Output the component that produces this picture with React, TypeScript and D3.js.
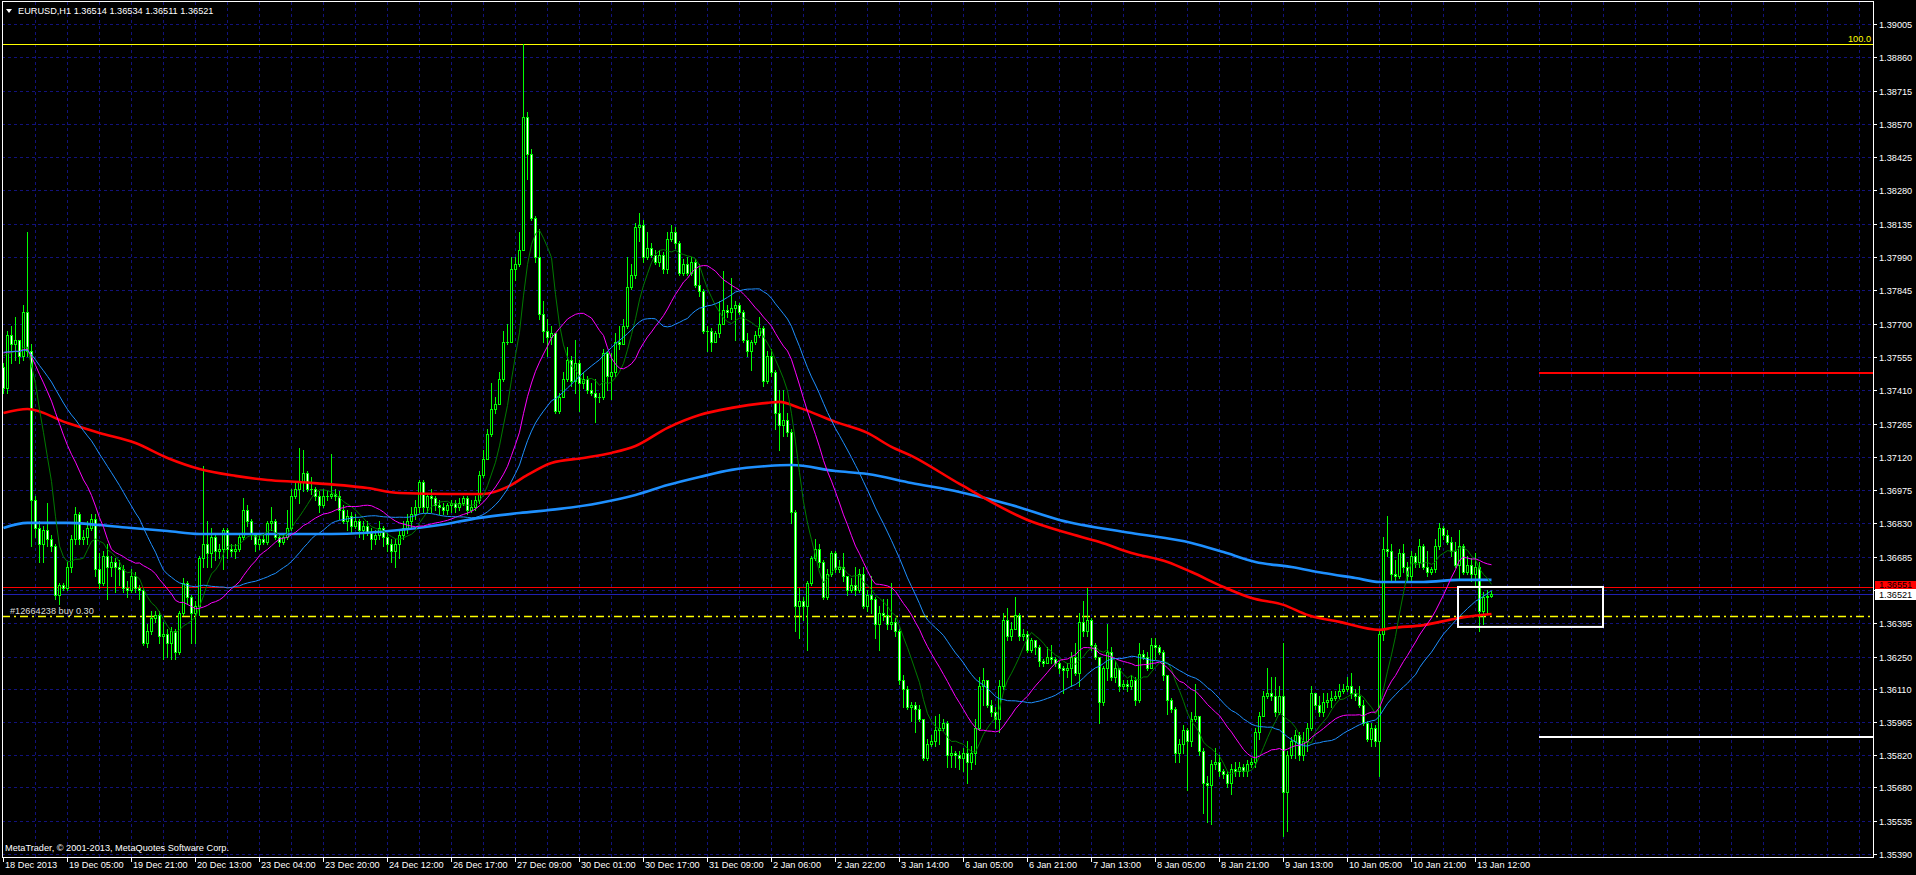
import React, { useRef, useEffect } from 'react';
import * as d3 from 'd3';

const W = 1916;
const H = 875;

// EURUSD H1, one bar per hour starting 18 Dec 2013 13:00 (open of each bar = previous close)
const firstOpen = 1.3751;

const closes: number[] = [
    1.3742, 1.3765, 1.3761, 1.3763, 1.3756, 1.3775, 1.3758, 1.3693, 1.3681, 1.3674, 1.3680, 1.3676, 1.3673, 1.3652, 1.3656, 1.3655,
    1.3664, 1.3676, 1.3687, 1.3676, 1.3677, 1.3681, 1.3685, 1.3663, 1.3657, 1.3669, 1.3664, 1.3666, 1.3664, 1.3663, 1.3655, 1.3654,
    1.3660, 1.3655, 1.3654, 1.3631, 1.3636, 1.3642, 1.3643, 1.3634, 1.3635, 1.3631, 1.3636, 1.3627, 1.3644, 1.3657, 1.3651, 1.3644,
    1.3647, 1.3668, 1.3674, 1.3670, 1.3677, 1.3671, 1.3672, 1.3680, 1.3672, 1.3671, 1.3672, 1.3677, 1.3689, 1.3684, 1.3678, 1.3674,
    1.3676, 1.3675, 1.3683, 1.3684, 1.3677, 1.3675, 1.3677, 1.3681, 1.3695, 1.3698, 1.3701, 1.3705, 1.3698, 1.3698, 1.3695, 1.3691,
    1.3695, 1.3695, 1.3696, 1.3695, 1.3689, 1.3684, 1.3686, 1.3682, 1.3684, 1.3680, 1.3682, 1.3679, 1.3676, 1.3678, 1.3681, 1.3677,
    1.3674, 1.3671, 1.3674, 1.3678, 1.3681, 1.3684, 1.3687, 1.3690, 1.3701, 1.3690, 1.3695, 1.3694, 1.3691, 1.3690, 1.3689, 1.3691,
    1.3692, 1.3690, 1.3692, 1.3694, 1.3689, 1.3690, 1.3693, 1.3704, 1.3711, 1.3722, 1.3733, 1.3735, 1.3746, 1.3762, 1.3762, 1.3794,
    1.3796, 1.3802, 1.3860, 1.3844, 1.3816, 1.3799, 1.3774, 1.3767, 1.3764, 1.3766, 1.3732, 1.3738, 1.3746, 1.3754, 1.3745, 1.3753,
    1.3744, 1.3746, 1.3741, 1.3740, 1.3738, 1.3738, 1.3757, 1.3747, 1.3749, 1.3762, 1.3761, 1.3769, 1.3786, 1.3791, 1.3812, 1.3813,
    1.3799, 1.3803, 1.3800, 1.3797, 1.3800, 1.3794, 1.3807, 1.3810, 1.3805, 1.3792, 1.3796, 1.3792, 1.3797, 1.3787, 1.3784, 1.3767,
    1.3767, 1.3762, 1.3766, 1.3770, 1.3776, 1.3775, 1.3777, 1.3778, 1.3775, 1.3763, 1.3758, 1.3762, 1.3765, 1.3768, 1.3745, 1.3756,
    1.3749, 1.3731, 1.3726, 1.3728, 1.3723, 1.3688, 1.3647, 1.3649, 1.3647, 1.3657, 1.3668, 1.3672, 1.3666, 1.3651, 1.3661, 1.3670,
    1.3663, 1.3664, 1.3660, 1.3654, 1.3656, 1.3654, 1.3661, 1.3647, 1.3652, 1.3650, 1.3639, 1.3644, 1.3643, 1.3639, 1.3640, 1.3636,
    1.3615, 1.3611, 1.3603, 1.3604, 1.3602, 1.3598, 1.3581, 1.3587, 1.3588, 1.3593, 1.3594, 1.3596, 1.3582, 1.3583, 1.3582, 1.3581,
    1.3583, 1.3579, 1.3583, 1.3594, 1.3612, 1.3615, 1.3604, 1.3601, 1.3598, 1.3612, 1.3641, 1.3634, 1.3637, 1.3643, 1.3634, 1.3635,
    1.3628, 1.3632, 1.3629, 1.3623, 1.3622, 1.3625, 1.3624, 1.3622, 1.3620, 1.3619, 1.3620, 1.3625, 1.3618, 1.3640, 1.3636, 1.3641,
    1.3630, 1.3625, 1.3605, 1.3620, 1.3627, 1.3616, 1.3620, 1.3612, 1.3613, 1.3612, 1.3615, 1.3606, 1.3626, 1.3625, 1.3620, 1.3630,
    1.3629, 1.3627, 1.3617, 1.3606, 1.3602, 1.3583, 1.3587, 1.3593, 1.3588, 1.3598, 1.3599, 1.3584, 1.3570, 1.3569, 1.3578, 1.3579,
    1.3575, 1.3574, 1.3570, 1.3576, 1.3575, 1.3577, 1.3575, 1.3578, 1.3579, 1.3592, 1.3599, 1.3608, 1.3609, 1.3608, 1.3601, 1.3608,
    1.3566, 1.3582, 1.3588, 1.3591, 1.3582, 1.3588, 1.3594, 1.3609, 1.3604, 1.3601, 1.3605, 1.3606, 1.3607, 1.3608, 1.3610, 1.3611,
    1.3612, 1.3609, 1.3608, 1.3604, 1.3596, 1.3589, 1.3594, 1.3588, 1.3635, 1.3672, 1.3671, 1.3661, 1.3660, 1.3670, 1.3664, 1.3660,
    1.3669, 1.3666, 1.3673, 1.3664, 1.3662, 1.3663, 1.3673, 1.3681, 1.3678, 1.3675, 1.3671, 1.3665, 1.3673, 1.3662, 1.3665, 1.3661,
    1.3664, 1.3645, 1.3651, 1.36514, 1.36521,
];

const highs: number[] = [
    1.3753, 1.3767, 1.3769, 1.3773, 1.3763, 1.3778, 1.3810, 1.3761, 1.3695, 1.3684, 1.3682, 1.3692, 1.3678, 1.3674, 1.3657, 1.3657,
    1.3666, 1.3678, 1.3690, 1.3688, 1.3680, 1.3684, 1.3687, 1.3687, 1.3670, 1.3671, 1.3674, 1.3669, 1.3668, 1.3667, 1.3665, 1.3658,
    1.3663, 1.3662, 1.3656, 1.3655, 1.3639, 1.3645, 1.3645, 1.3645, 1.3640, 1.3637, 1.3638, 1.3637, 1.3645, 1.3659, 1.3658, 1.3652,
    1.3649, 1.3669, 1.3708, 1.3684, 1.3681, 1.3678, 1.3674, 1.3681, 1.3681, 1.3674, 1.3674, 1.3678, 1.3694, 1.3691, 1.3685, 1.3678,
    1.3678, 1.3678, 1.3684, 1.3690, 1.3685, 1.3679, 1.3679, 1.3689, 1.3698, 1.3701, 1.3716, 1.3715, 1.3706, 1.3703, 1.3699, 1.3697,
    1.3698, 1.3697, 1.3713, 1.3698, 1.3697, 1.3691, 1.3689, 1.3688, 1.3687, 1.3685, 1.3684, 1.3684, 1.3681, 1.3680, 1.3684, 1.3682,
    1.3679, 1.3676, 1.3676, 1.3680, 1.3684, 1.3687, 1.3690, 1.3693, 1.3702, 1.3702, 1.3696, 1.3698, 1.3695, 1.3693, 1.3692, 1.3692,
    1.3693, 1.3693, 1.3694, 1.3695, 1.3695, 1.3693, 1.3695, 1.3706, 1.3715, 1.3724, 1.3744, 1.3738, 1.3749, 1.3767, 1.3770, 1.3799,
    1.3799, 1.3810, 1.3892, 1.3862, 1.3846, 1.3817, 1.3811, 1.3780, 1.3772, 1.3769, 1.3763, 1.3740, 1.3749, 1.3760, 1.3756, 1.3763,
    1.3754, 1.3749, 1.3747, 1.3744, 1.3746, 1.3740, 1.3759, 1.3758, 1.3757, 1.3766, 1.3769, 1.3772, 1.3799, 1.3796, 1.3814, 1.3818,
    1.3815, 1.3810, 1.3805, 1.3802, 1.3802, 1.3801, 1.3810, 1.3813, 1.3812, 1.3806, 1.3798, 1.3799, 1.3799, 1.3798, 1.3796, 1.3785,
    1.3769, 1.3768, 1.3767, 1.3780, 1.3793, 1.3778, 1.3790, 1.3780, 1.3779, 1.3776, 1.3766, 1.3763, 1.3767, 1.3773, 1.3769, 1.3758,
    1.3759, 1.3750, 1.3741, 1.3741, 1.3731, 1.3724, 1.3689, 1.3655, 1.3651, 1.3658, 1.3669, 1.3676, 1.3674, 1.3667, 1.3663, 1.3671,
    1.3671, 1.3667, 1.3670, 1.3660, 1.3659, 1.3664, 1.3663, 1.3664, 1.3654, 1.3660, 1.3651, 1.3647, 1.3650, 1.3650, 1.3657, 1.3642,
    1.3637, 1.3617, 1.3612, 1.3605, 1.3605, 1.3604, 1.3597, 1.3589, 1.3591, 1.3599, 1.3600, 1.3598, 1.3597, 1.3586, 1.3584, 1.3584,
    1.3585, 1.3588, 1.3586, 1.3598, 1.3616, 1.3620, 1.3615, 1.3606, 1.3603, 1.3615, 1.3644, 1.3646, 1.3640, 1.3651, 1.3644, 1.3637,
    1.3636, 1.3633, 1.3632, 1.3630, 1.3624, 1.3629, 1.3630, 1.3625, 1.3623, 1.3621, 1.3622, 1.3627, 1.3631, 1.3644, 1.3649, 1.3655,
    1.3642, 1.3631, 1.3624, 1.3621, 1.3639, 1.3629, 1.3623, 1.3620, 1.3615, 1.3615, 1.3617, 1.3616, 1.3631, 1.3628, 1.3627, 1.3633,
    1.3633, 1.3630, 1.3628, 1.3617, 1.3607, 1.3603, 1.3589, 1.3595, 1.3594, 1.3601, 1.3613, 1.3599, 1.3585, 1.3573, 1.3580, 1.3585,
    1.3582, 1.3576, 1.3575, 1.3578, 1.3579, 1.3579, 1.3578, 1.3580, 1.3581, 1.3594, 1.3601, 1.3610, 1.3620, 1.3616, 1.3616, 1.3612,
    1.3631, 1.3584, 1.3590, 1.3593, 1.3592, 1.3592, 1.3596, 1.3612, 1.3609, 1.3608, 1.3609, 1.3609, 1.3610, 1.3610, 1.3613, 1.3613,
    1.3616, 1.3618, 1.3611, 1.3612, 1.3606, 1.3597, 1.3596, 1.3595, 1.3637, 1.3677, 1.3686, 1.3674, 1.3667, 1.3672, 1.3674, 1.3666,
    1.3671, 1.3670, 1.3676, 1.3674, 1.3671, 1.3664, 1.3676, 1.3683, 1.3682, 1.3680, 1.3677, 1.3675, 1.3680, 1.3674, 1.3669, 1.3668,
    1.3670, 1.3666, 1.3653, 1.3654, 1.36534,
];

const lows: number[] = [
    1.3740, 1.3740, 1.3753, 1.3754, 1.3753, 1.3754, 1.3756, 1.3673, 1.3677, 1.3666, 1.3666, 1.3673, 1.3671, 1.3650, 1.3648, 1.3654,
    1.3654, 1.3662, 1.3674, 1.3674, 1.3674, 1.3674, 1.3680, 1.3660, 1.3655, 1.3656, 1.3650, 1.3660, 1.3653, 1.3656, 1.3653, 1.3651,
    1.3653, 1.3653, 1.3650, 1.3630, 1.3629, 1.3635, 1.3640, 1.3631, 1.3624, 1.3625, 1.3624, 1.3624, 1.3626, 1.3643, 1.3648, 1.3631,
    1.3631, 1.3643, 1.3664, 1.3664, 1.3664, 1.3667, 1.3668, 1.3663, 1.3668, 1.3669, 1.3668, 1.3671, 1.3676, 1.3682, 1.3676, 1.3671,
    1.3672, 1.3674, 1.3674, 1.3680, 1.3676, 1.3673, 1.3674, 1.3676, 1.3680, 1.3694, 1.3692, 1.3697, 1.3697, 1.3696, 1.3693, 1.3688,
    1.3690, 1.3693, 1.3694, 1.3693, 1.3685, 1.3683, 1.3680, 1.3679, 1.3681, 1.3677, 1.3676, 1.3678, 1.3672, 1.3674, 1.3676, 1.3673,
    1.3671, 1.3666, 1.3664, 1.3668, 1.3676, 1.3679, 1.3681, 1.3685, 1.3688, 1.3688, 1.3688, 1.3688, 1.3689, 1.3687, 1.3687, 1.3687,
    1.3688, 1.3688, 1.3689, 1.3691, 1.3687, 1.3688, 1.3689, 1.3692, 1.3703, 1.3711, 1.3721, 1.3731, 1.3735, 1.3745, 1.3761, 1.3762,
    1.3789, 1.3795, 1.3802, 1.3833, 1.3815, 1.3797, 1.3772, 1.3762, 1.3756, 1.3761, 1.3731, 1.3731, 1.3738, 1.3745, 1.3743, 1.3740,
    1.3732, 1.3742, 1.3740, 1.3739, 1.3727, 1.3736, 1.3737, 1.3741, 1.3737, 1.3747, 1.3759, 1.3761, 1.3768, 1.3785, 1.3790, 1.3806,
    1.3797, 1.3798, 1.3799, 1.3796, 1.3795, 1.3792, 1.3792, 1.3806, 1.3803, 1.3791, 1.3791, 1.3791, 1.3791, 1.3786, 1.3782, 1.3766,
    1.3758, 1.3758, 1.3762, 1.3764, 1.3770, 1.3773, 1.3772, 1.3763, 1.3774, 1.3762, 1.3756, 1.3750, 1.3761, 1.3764, 1.3743, 1.3744,
    1.3747, 1.3724, 1.3715, 1.3721, 1.3721, 1.3683, 1.3636, 1.3633, 1.3641, 1.3628, 1.3656, 1.3667, 1.3664, 1.3650, 1.3650, 1.3660,
    1.3662, 1.3662, 1.3658, 1.3652, 1.3653, 1.3652, 1.3653, 1.3646, 1.3645, 1.3644, 1.3633, 1.3628, 1.3641, 1.3637, 1.3637, 1.3634,
    1.3613, 1.3603, 1.3602, 1.3597, 1.3592, 1.3597, 1.3580, 1.3580, 1.3586, 1.3586, 1.3587, 1.3593, 1.3577, 1.3577, 1.3577, 1.3576,
    1.3575, 1.3570, 1.3576, 1.3578, 1.3593, 1.3604, 1.3603, 1.3599, 1.3594, 1.3592, 1.3611, 1.3632, 1.3632, 1.3637, 1.3632, 1.3632,
    1.3627, 1.3627, 1.3626, 1.3621, 1.3621, 1.3622, 1.3622, 1.3621, 1.3618, 1.3609, 1.3616, 1.3612, 1.3617, 1.3612, 1.3634, 1.3634,
    1.3628, 1.3624, 1.3596, 1.3604, 1.3615, 1.3615, 1.3614, 1.3610, 1.3611, 1.3610, 1.3611, 1.3604, 1.3605, 1.3624, 1.3619, 1.3620,
    1.3624, 1.3626, 1.3615, 1.3600, 1.3601, 1.3579, 1.3579, 1.3583, 1.3567, 1.3586, 1.3597, 1.3582, 1.3557, 1.3553, 1.3552, 1.3576,
    1.3573, 1.3572, 1.3568, 1.3565, 1.3573, 1.3573, 1.3573, 1.3573, 1.3577, 1.3577, 1.3589, 1.3599, 1.3607, 1.3606, 1.3599, 1.3600,
    1.3547, 1.3549, 1.3581, 1.3581, 1.3580, 1.3580, 1.3584, 1.3593, 1.3602, 1.3599, 1.3599, 1.3603, 1.3603, 1.3606, 1.3607, 1.3609,
    1.3610, 1.3607, 1.3606, 1.3603, 1.3595, 1.3588, 1.3586, 1.3586, 1.3573, 1.3632, 1.3669, 1.3658, 1.3658, 1.3659, 1.3662, 1.3658,
    1.3658, 1.3664, 1.3664, 1.3663, 1.3660, 1.3661, 1.3662, 1.3672, 1.3676, 1.3674, 1.3669, 1.3664, 1.3659, 1.3661, 1.3661, 1.3658,
    1.3656, 1.3636, 1.3639, 1.3644, 1.36511,
];

// slow moving averages: [bar index, price]
const redMA: [number, number][] = [
    [0, 1.37311], [6, 1.37328], [16, 1.37267], [24, 1.37224], [33, 1.37180], [41, 1.37115], [49, 1.37067], [58, 1.37037],
    [66, 1.37019], [74, 1.37010], [91, 1.36984], [99, 1.36962], [112, 1.36958], [120, 1.36958], [126, 1.36989], [131, 1.37041],
    [137, 1.37093], [145, 1.37115], [152, 1.37137], [158, 1.37167], [166, 1.37246], [174, 1.37302], [182, 1.37333], [191, 1.37355],
    [194, 1.37359], [199, 1.37333], [208, 1.37272], [216, 1.37224], [222, 1.37163], [227, 1.37124], [239, 1.37002], [256, 1.36845],
    [266, 1.36788], [274, 1.36749], [282, 1.36701], [291, 1.36662], [297, 1.36618], [305, 1.36553], [312, 1.36505], [320, 1.36475],
    [326, 1.36431], [334, 1.36401], [344, 1.36366], [347, 1.36374], [355, 1.36387], [364, 1.36418], [372, 1.36435],
];
const blueMA: [number, number][] = [
    [0, 1.36810], [6, 1.36832], [16, 1.36832], [24, 1.36823], [32, 1.36810], [41, 1.36797], [49, 1.36784], [74, 1.36784],
    [82, 1.36784], [99, 1.36801], [109, 1.36823], [119, 1.36854], [129, 1.36875], [139, 1.36893], [149, 1.36919], [158, 1.36954],
    [166, 1.36997], [174, 1.37032], [182, 1.37063], [191, 1.37080], [197, 1.37084], [208, 1.37058], [216, 1.37045], [227, 1.37006],
    [239, 1.36967], [252, 1.36910], [264, 1.36845], [282, 1.36788], [297, 1.36745], [305, 1.36705], [313, 1.36662], [322, 1.36640],
    [330, 1.36614], [338, 1.36592], [344, 1.36575], [355, 1.36575], [364, 1.36584], [372, 1.36584],
];
// fast simple moving averages (periods) and the level before the first bar
const fastPeriods = [8, 21, 34];
const priorLevel = 1.3758;

const priceTicks = [
    1.39005, 1.38860, 1.38715, 1.38570, 1.38425, 1.38280, 1.38135, 1.37990, 1.37845, 1.37700, 1.37555, 1.37410, 1.37265,
    1.37120, 1.36975, 1.36830, 1.36685, 1.36540, 1.36395, 1.36250, 1.36110, 1.35965, 1.35820, 1.35680, 1.35535, 1.35390,
];

const timeLabels = [
    '18 Dec 2013', '19 Dec 05:00', '19 Dec 21:00', '20 Dec 13:00', '23 Dec 04:00', '23 Dec 20:00', '24 Dec 12:00',
    '26 Dec 17:00', '27 Dec 09:00', '30 Dec 01:00', '30 Dec 17:00', '31 Dec 09:00', '2 Jan 06:00', '2 Jan 22:00',
    '3 Jan 14:00', '6 Jan 05:00', '6 Jan 21:00', '7 Jan 13:00', '8 Jan 05:00', '8 Jan 21:00', '9 Jan 13:00',
    '10 Jan 05:00', '10 Jan 21:00', '13 Jan 12:00',
];

const header = 'EURUSD,H1  1.36514 1.36534 1.36511 1.36521';
const askPrice = 1.36551;
const bidPrice = 1.36521;
const orderPrice = 1.36427;
const fibHigh = 1.38918;
const upperLevel = 1.37485;
const lowerLevel = 1.35900;
const levelsFromBar = 384;
const boxRange = { from: 363.75, to: 400, top: 1.36553, bottom: 1.36379 };

const FONT = "'Liberation Sans', Arial, sans-serif";

const App: React.FC = () => {
    const svgRef = useRef<SVGSVGElement | null>(null);

    useEffect(() => {
        const svg = d3.select(svgRef.current);
        svg.selectAll('*').remove();

        const left = 2, right = 1873, top = 2, bottom = 857;
        const x = d3.scaleLinear().domain([0, closes.length - 1]).range([3, 1491]);
        const y = d3.scaleLinear().domain([1.35390, 1.39005]).range([854, 24]);
        const ry = (p: number) => Math.round(y(p));

        svg.append('rect').attr('width', W).attr('height', H).attr('fill', '#000');

        // grid
        const grid = svg.append('g').attr('stroke', '#12127c').attr('stroke-dasharray', '3,3').attr('shape-rendering', 'crispEdges');
        grid.selectAll('.hg').data(priceTicks).enter().append('line')
            .attr('x1', left).attr('x2', right)
            .attr('y1', d => ry(d) + 0.5).attr('y2', d => ry(d) + 0.5);
        const vTicks = d3.range(8, 468, 8);
        grid.selectAll('.vg').data(vTicks).enter().append('line')
            .attr('x1', d => Math.round(x(d)) + 0.5).attr('x2', d => Math.round(x(d)) + 0.5)
            .attr('y1', top).attr('y2', bottom);

        // fibo top level
        svg.append('line').attr('x1', left).attr('x2', right)
            .attr('y1', ry(fibHigh) + 0.5).attr('y2', ry(fibHigh) + 0.5)
            .attr('stroke', '#ffff00').attr('shape-rendering', 'crispEdges');
        svg.append('text').attr('x', right - 2).attr('y', ry(fibHigh) - 2).attr('text-anchor', 'end')
            .attr('fill', '#ffff00').style('font', `9.2px ${FONT}`).text('100.0');

        // order, ask and bid lines
        svg.append('line').attr('x1', left).attr('x2', right)
            .attr('y1', ry(orderPrice) + 0.5).attr('y2', ry(orderPrice) + 0.5)
            .attr('stroke', '#ffff00').attr('stroke-width', 1.3).attr('stroke-dasharray', '8,4,2,4');
        svg.append('text').attr('x', 10).attr('y', ry(orderPrice) - 2)
            .attr('fill', '#dcdcdc').style('font', `9.2px ${FONT}`).text('#12664238 buy 0.30');
        svg.append('line').attr('x1', left).attr('x2', right)
            .attr('y1', ry(askPrice) + 0.5).attr('y2', ry(askPrice) + 0.5)
            .attr('stroke', '#ff0000').attr('shape-rendering', 'crispEdges');
        svg.append('line').attr('x1', left).attr('x2', right)
            .attr('y1', ry(bidPrice) + 0.5).attr('y2', ry(bidPrice) + 0.5)
            .attr('stroke', '#2020b0').attr('shape-rendering', 'crispEdges');

        // candles
        const bars = closes.map((c, i) => {
            const o = i === 0 ? firstOpen : closes[i - 1];
            return { i, o, c, h: Math.max(highs[i], o, c), l: Math.min(lows[i], o, c) };
        });
        const cg = svg.append('g').attr('shape-rendering', 'crispEdges');
        bars.forEach(b => {
            const cx = Math.round(x(b.i));
            const yh = ry(b.h), yl = ry(b.l);
            cg.append('rect').attr('x', cx).attr('y', yh).attr('width', 1).attr('height', yl - yh + 1).attr('fill', '#00ff00');
            const yt = ry(Math.max(b.o, b.c)), yb = ry(Math.min(b.o, b.c));
            const hgt = Math.max(1, yb - yt + 1);
            cg.append('rect').attr('x', cx - 1).attr('y', yt).attr('width', 3).attr('height', hgt).attr('fill', '#00ff00');
            if (hgt > 2) {
                cg.append('rect').attr('x', cx).attr('y', yt + 1).attr('width', 1).attr('height', hgt - 2)
                    .attr('fill', b.c < b.o ? '#ffffff' : '#000000');
            }
        });

        // slow MAs
        const slow = d3.line<[number, number]>().x(d => x(d[0]) + 0.5).y(d => y(d[1])).curve(d3.curveMonotoneX);
        svg.append('path').attr('d', slow(blueMA)).attr('fill', 'none').attr('stroke', '#1e90ff').attr('stroke-width', 2.6);
        svg.append('path').attr('d', slow(redMA)).attr('fill', 'none').attr('stroke', '#ff0000').attr('stroke-width', 2.6);

        // fast SMAs
        const fastColors = ['#007a00', '#ff00ff', '#1e90ff'];
        fastPeriods.forEach((p, k) => {
            const vals: [number, number][] = closes.map((_, i) => {
                let s = 0;
                for (let j = i - p + 1; j <= i; j++) s += j < 0 ? priorLevel : closes[j];
                return [i, s / p];
            });
            const line = d3.line<[number, number]>().x(d => x(d[0]) + 0.5).y(d => y(d[1]));
            svg.append('path').attr('d', line(vals)).attr('fill', 'none').attr('stroke', fastColors[k]).attr('stroke-width', 1);
        });

        // objects on the right
        svg.append('rect')
            .attr('x', x(boxRange.from)).attr('y', y(boxRange.top))
            .attr('width', x(boxRange.to) - x(boxRange.from)).attr('height', y(boxRange.bottom) - y(boxRange.top))
            .attr('fill', 'none').attr('stroke', '#ffffff').attr('stroke-width', 2);
        svg.append('line').attr('x1', x(levelsFromBar)).attr('x2', right).attr('y1', y(upperLevel)).attr('y2', y(upperLevel))
            .attr('stroke', '#ff0000').attr('stroke-width', 2);
        svg.append('line').attr('x1', x(levelsFromBar)).attr('x2', right).attr('y1', y(lowerLevel)).attr('y2', y(lowerLevel))
            .attr('stroke', '#ffffff').attr('stroke-width', 2);

        // frame
        const frame = svg.append('g').attr('stroke', '#ffffff').attr('shape-rendering', 'crispEdges');
        frame.append('line').attr('x1', left + 0.5).attr('x2', left + 0.5).attr('y1', top).attr('y2', bottom + 1);
        frame.append('line').attr('x1', left).attr('x2', right + 1).attr('y1', top - 0.5).attr('y2', top - 0.5);
        frame.append('line').attr('x1', right + 0.5).attr('x2', right + 0.5).attr('y1', top).attr('y2', bottom + 1);
        frame.append('line').attr('x1', left).attr('x2', right + 1).attr('y1', bottom + 0.5).attr('y2', bottom + 0.5);

        // price axis (labels under the ask/bid boxes are hidden, as in the terminal)
        const pa = svg.append('g');
        priceTicks.forEach(v => {
            pa.append('line').attr('x1', right + 1).attr('x2', right + 4).attr('y1', ry(v) + 0.5).attr('y2', ry(v) + 0.5)
                .attr('stroke', '#ffffff').attr('shape-rendering', 'crispEdges');
            const covered = Math.abs(ry(v) - ry(askPrice)) < 9 || Math.abs(ry(v) - ry(bidPrice)) < 9;
            if (!covered) {
                pa.append('text').attr('x', right + 6).attr('y', ry(v) + 3.5).attr('fill', '#ffffff')
                    .style('font', `9.2px ${FONT}`).text(v.toFixed(5));
            }
        });
        pa.append('rect').attr('x', right + 2).attr('y', ry(askPrice) - 6).attr('width', W - right - 2).attr('height', 12).attr('fill', '#ff0000');
        pa.append('text').attr('x', right + 6).attr('y', ry(askPrice) + 1).attr('fill', '#000').style('font', `9.2px ${FONT}`).text(askPrice.toFixed(5));
        pa.append('rect').attr('x', right + 2).attr('y', ry(bidPrice) - 5).attr('width', W - right - 2).attr('height', 11).attr('fill', '#ffffff');
        pa.append('text').attr('x', right + 6).attr('y', ry(bidPrice) + 3.5).attr('fill', '#000').style('font', `9.2px ${FONT}`).text(bidPrice.toFixed(5));

        // time axis
        const ta = svg.append('g');
        timeLabels.forEach((t, k) => {
            const tx = Math.round(x(k * 16));
            ta.append('line').attr('x1', tx + 0.5).attr('x2', tx + 0.5).attr('y1', bottom + 1).attr('y2', bottom + 5)
                .attr('stroke', '#ffffff').attr('shape-rendering', 'crispEdges');
            ta.append('text').attr('x', tx + 2).attr('y', 868).attr('fill', '#ffffff').style('font', `9.2px ${FONT}`).text(t);
        });

        // header and footer
        svg.append('path').attr('d', 'M6,9 L12,9 L9,13 Z').attr('fill', '#ffffff');
        svg.append('text').attr('x', 18).attr('y', 14).attr('fill', '#ffffff').style('font', `9.2px ${FONT}`).text(header);
        svg.append('text').attr('x', 5).attr('y', 851).attr('fill', '#ffffff').style('font', `9.2px ${FONT}`)
            .text('MetaTrader, © 2001-2013, MetaQuotes Software Corp.');
    }, []);

    return (
        <svg ref={svgRef} width={W} height={H} style={{ position: 'absolute', left: 0, top: 0, display: 'block' }}></svg>
    );
};

export default App;
